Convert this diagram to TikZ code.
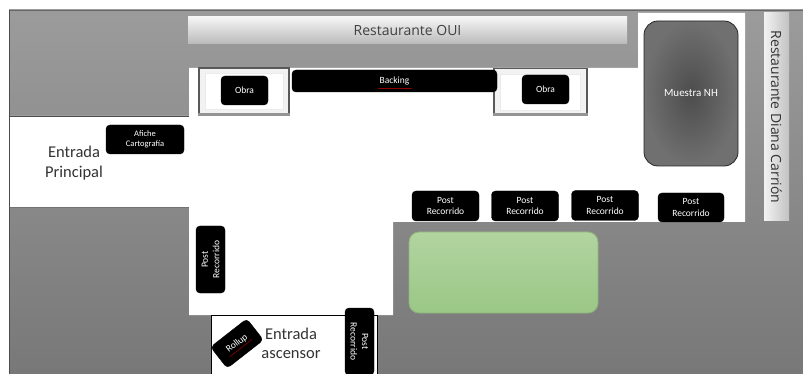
\documentclass[tikz,border=0pt]{standalone}
\usetikzlibrary{calc}
\usepackage{fontspec}
\setmainfont{Carlito}
\newfontfamily\labfont{Open Sans}
\definecolor{greentop}{HTML}{B2D4A0}
\definecolor{greenbot}{HTML}{9AC786}
\definecolor{greenedge}{HTML}{8FB47A}
\begin{document}
\begin{tikzpicture}[x=1pt,y=-1pt,
  blk/.style={draw=black,fill=black,rounded corners=4pt,text=white,align=center,inner sep=0pt,font=\fontsize{9.5}{11.5}\selectfont},
  band/.style={draw=none,inner sep=0pt,text=black!75,align=center},
  frameb/.style={draw=black!65,line width=1.2pt,fill=black!5,inner sep=0pt,minimum height=47pt},
  lab/.style={text=black!80,align=center,inner sep=0pt,font=\fontsize{16.5}{19.5}\selectfont}]
\useasboundingbox (0,0) rectangle (803,374);
\fill[white] (0,0) rectangle (803,374);
% grey ground
\shade[top color=black!39,bottom color=black!53] (9,10) rectangle (803,374);
\draw[black!60,line width=.8pt] (9,10) -- (803,10);
% white floor
\fill[white] (9,116) -- (189,116) -- (189,68) -- (638,68) -- (638,13) -- (745,13) -- (745,222)
  -- (393,222) -- (393,315) -- (189,315) -- (189,207) -- (9,207) -- cycle;
\draw[black!70,line width=.8pt] (9,116) -- (189,116);
\draw[black!55,line width=.8pt] (9,207) -- (189,207);
\draw[black!70,line width=.8pt] (9,10) -- (9,374);
% elevator
\draw[draw=black,line width=.8pt,fill=white] (211,374) -- (211,315) -- (377,315) -- (377,374);
% restaurants
\node[band,top color=black!4,bottom color=black!27,minimum width=439pt,minimum height=27pt,font=\labfont\fontsize{14}{17}\selectfont] (oui) at (407.5,30.5) {Restaurante OUI};
\node[band,left color=black!5,right color=black!24,minimum width=25pt,minimum height=208pt] (diana) at (776.5,117) {};
\node[rotate=-90,inner sep=0pt,text=black!80,font=\labfont\fontsize{14}{17}\selectfont] (dianat) at (diana.center) {Restaurante Diana Carrión};
% exhibit frames
\node[frameb,minimum width=90pt] (f1) at (244,91.5) {};
\node[frameb,minimum width=93pt] (f2) at (540.5,92) {};
\fill[black!42] (f1.south west) ++(0,-3) rectangle (f1.south east);
\fill[black!42] (f2.south west) ++(0,-3) rectangle (f2.south east);
\node[draw=black!8,fill=white,minimum width=78pt,minimum height=36pt,inner sep=0pt] (f1i) at (f1.center) {};
\node[draw=black!8,fill=white,minimum width=80pt,minimum height=36pt,inner sep=0pt] (f2i) at (f2.center) {};
\node[blk,minimum width=47pt,minimum height=29pt] (o1) at (244.5,90.5) {Obra};
\node[blk,minimum width=47pt,minimum height=29pt] (o2) at (545.5,89.5) {Obra};
\node[blk,minimum width=205pt,minimum height=22pt] (back) at (394.5,81) {Backing};
\draw[red!55!black,line width=.7pt] (378,88.5) -- (412,88.5);
\node[blk,minimum width=78pt,minimum height=29pt,font=\fontsize{8.5}{10}\selectfont] (afi) at (145,139.5) {Afiche\\Cartografía};
\node[lab] (ep) at (74,163) {Entrada\\Principal};
\node[lab] (ea) at (291,343.5) {Entrada\\ascensor};
% show case
\node[draw=black!85,line width=.8pt,rounded corners=14pt,inner color=black!70,outer color=black!56,minimum width=94pt,minimum height=145pt,inner sep=0pt,text=white,font=\fontsize{11}{13}\selectfont] (nh) at (691,93.5) {Muestra NH};
% route posters
\node[blk,minimum width=67pt,minimum height=30pt] (p1) at (445.5,206) {Post\\Recorrido};
\node[blk,minimum width=67pt,minimum height=30pt] (p2) at (525,206) {Post\\Recorrido};
\node[blk,minimum width=67pt,minimum height=30pt] (p3) at (605,205.5) {Post\\Recorrido};
\node[blk,minimum width=66pt,minimum height=29pt] (p4) at (691,207.5) {Post\\Recorrido};
\node[blk,rotate=90,minimum width=67pt,minimum height=29pt] (p5) at (210.5,259.5) {Post\\Recorrido};
\node[blk,rotate=-90,minimum width=67pt,minimum height=29pt] (p6) at (359.5,341.5) {Post\\Recorrido};
\node[blk,rotate=38,minimum width=46pt,minimum height=27pt] (rol) at (237,343.5) {Rollup};
\draw[red!45!black,line width=.8pt] ($(rol.center)+(-7.3,13.3)$) -- ($(rol.center)+(14.7,-3.9)$);
% green area
\node[draw=greenedge,line width=.8pt,rounded corners=10pt,top color=greentop,bottom color=greenbot,minimum width=189pt,minimum height=81pt,inner sep=0pt] (verde) at (503.5,272.5) {};
\end{tikzpicture}
\end{document}
